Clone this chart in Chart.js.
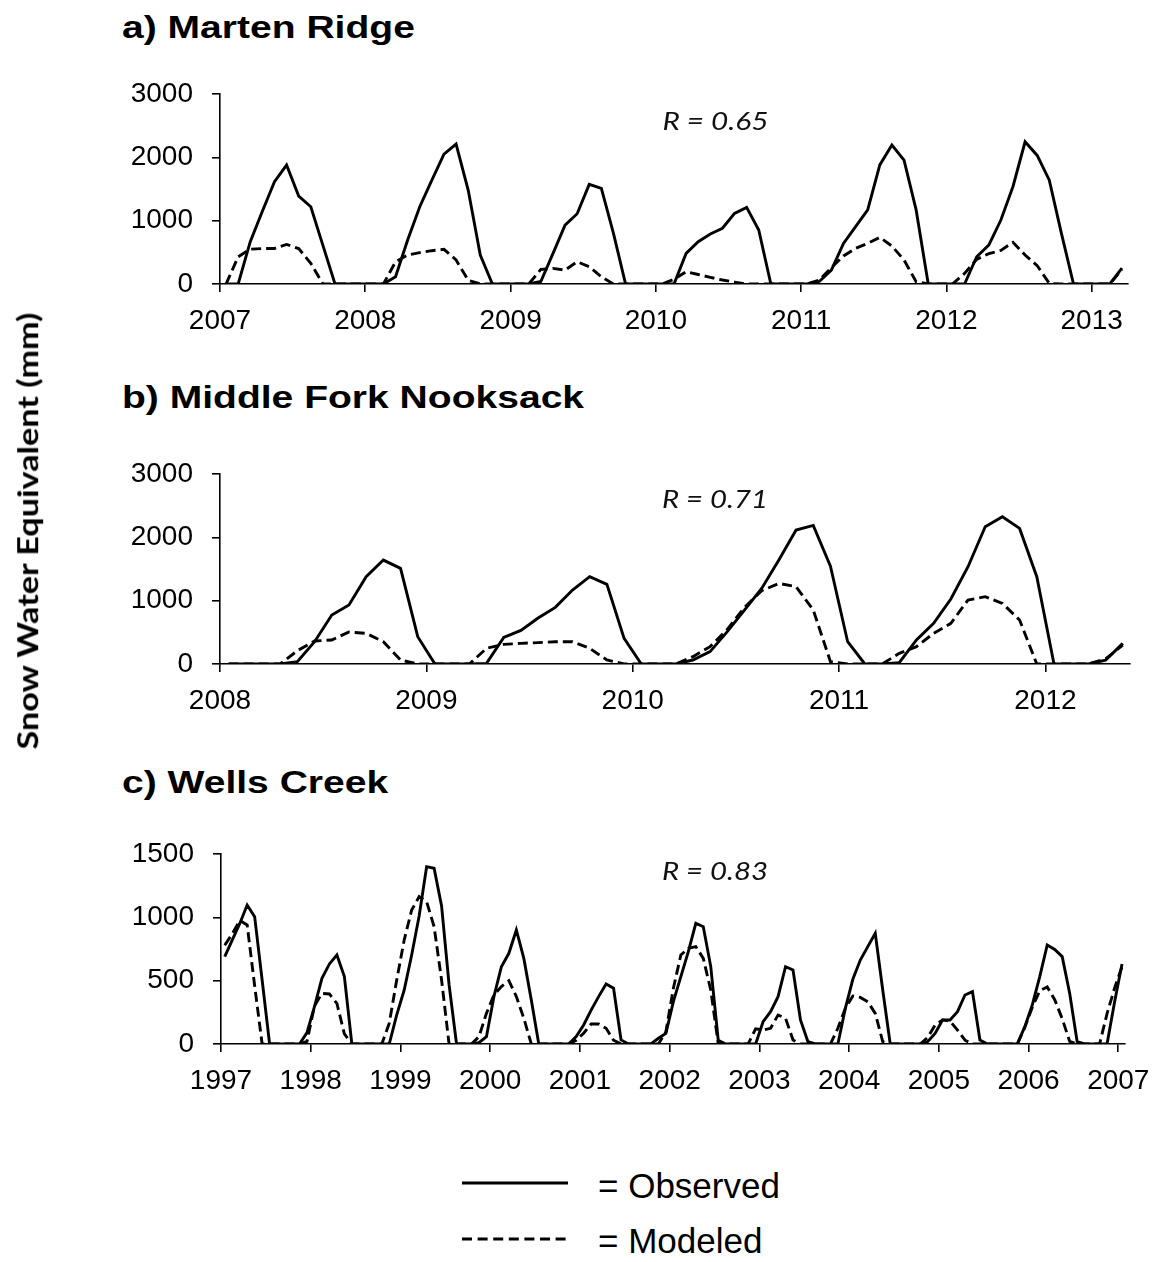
<!DOCTYPE html>
<html>
<head>
<meta charset="utf-8">
<script src="https://cdn.jsdelivr.net/npm/chart.js@4.4.1/dist/chart.umd.min.js"></script>
<style>
  html, body { margin: 0; padding: 0; background: #fff; }
  #page { position: relative; width: 1162px; height: 1262px; overflow: hidden; background: #fff; }
  canvas { position: absolute; left: 0; }
  .title {
    position: absolute; left: 122px; margin: 0;
    font: bold 32px 'Liberation Sans', Arial, sans-serif; line-height: 32px;
    white-space: nowrap; transform-origin: left center; transform: scaleX(1.22); color: #000;
  }
  .rval {
    position: absolute; font: italic 25px Lato, 'Open Sans', sans-serif; line-height: 25px;
    white-space: nowrap; color: #111;
  }
  #ylabel {
    position: absolute; font: bold 28px Lato, 'Open Sans', sans-serif; line-height: 28px;
    white-space: nowrap; color: #000;
  }
  .legtext {
    position: absolute; left: 598px; font: 35px 'Liberation Sans', Arial, sans-serif;
    line-height: 35px; white-space: nowrap; color: #000;
  }
  svg.legline { position: absolute; left: 462px; width: 108px; height: 10px; }
</style>
</head>
<body>
<div id="page">
  <div class="title" style="top:11px">a) Marten Ridge</div>
  <div class="title" style="top:381px">b) Middle Fork Nooksack</div>
  <div class="title" style="top:766px">c) Wells Creek</div>

  <canvas id="chartA" width="1162" height="300" style="top:54px"></canvas>
  <canvas id="chartB" width="1162" height="300" style="top:434px"></canvas>
  <canvas id="chartC" width="1162" height="300" style="top:814px"></canvas>

  <div class="rval" data-cx="715" data-cy="120" data-w="106">R = 0.65</div>
  <div class="rval" data-cx="715" data-cy="498" data-w="106">R = 0.71</div>
  <div class="rval" data-cx="715" data-cy="870" data-w="106">R = 0.83</div>

  <div id="ylabel">Snow Water Equivalent (mm)</div>

  <svg class="legline" style="top:1178px"><line x1="0" y1="5" x2="106" y2="5" stroke="#000" stroke-width="3"/></svg>
  <div class="legtext" style="top:1168px">= Observed</div>
  <svg class="legline" style="top:1234px"><line x1="0" y1="5" x2="106" y2="5" stroke="#000" stroke-width="3" stroke-dasharray="10 5.6"/></svg>
  <div class="legtext" style="top:1223px">= Modeled</div>
</div>

<script>
// ---- Monthly snow water equivalent (mm), one value per month, mid-month ----

// a) Marten Ridge, Jan 2007 - Mar 2013
const observedA = [
  0, 0, 668, 1150, 1615, 1878, 1389, 1220, 610, 0, 0, 0,        // 2007
  0, 0, 115, 695, 1220, 1640, 2050, 2210, 1483, 458, 0, 0,      // 2008
  0, 0, 40, 480, 930, 1110, 1573, 1510, 800, 0, 0, 0,           // 2009
  0, 0, 484, 668, 790, 880, 1115, 1210, 852, 0, 0, 0,           // 2010
  0, 40, 220, 640, 905, 1170, 1880, 2195, 1957, 1170, 0, 0,     // 2011
  0, 0, 430, 615, 1010, 1540, 2245, 2030, 1640, 800, 0, 0,      // 2012
  0, 0, 250                                                     // 2013
];
const modeledA = [
  0, 430, 550, 560, 560, 625, 560, 326, 0, 0, 0, 0,             // 2007
  0, 0, 350, 458, 495, 526, 547, 380, 60, 0, 0, 0,              // 2008
  0, 0, 230, 247, 220, 352, 273, 115, 0, 0, 0, 0,               // 2009
  0, 74, 195, 150, 105, 63, 30, 0, 0, 0, 0, 0,                  // 2010
  0, 63, 258, 442, 563, 642, 736, 600, 379, 37, 0, 0,           // 2011
  0, 168, 389, 479, 531, 658, 458, 289, 10, 0, 0, 0,            // 2012
  0, 0, 230                                                     // 2013
];

// b) Middle Fork Nooksack, Jan 2008 - May 2012
const observedB = [
  0, 0, 0, 0, 37, 352, 773, 931, 1378, 1641, 1510, 431,         // 2008
  0, 0, 0, 10, 421, 531, 726, 894, 1168, 1378, 1257, 405,       // 2009
  0, 0, 0, 63, 195, 510, 852, 1194, 1641, 2115, 2188, 1546,     // 2010
  352, 0, 0, 20, 379, 642, 1026, 1536, 2167, 2325, 2141, 1378,  // 2011
  0, 0, 0, 60, 326                                              // 2012
];
const modeledB = [
  0, 0, 0, 0, 210, 363, 379, 505, 484, 352, 63, 0,              // 2008
  0, 0, 0, 247, 310, 326, 337, 352, 352, 247, 63, 0,            // 2009
  0, 0, 0, 116, 274, 547, 894, 1157, 1273, 1220, 852, 37,       // 2010
  0, 0, 0, 168, 274, 484, 642, 1010, 1063, 957, 694, 0,         // 2011
  0, 0, 0, 80, 300                                              // 2012
];

// c) Wells Creek, Jan 1997 - Jan 2007
const observedC = [
  690, 820, 950, 1097, 1005, 505, 0, 0, 0, 0, 0, 90,            // 1997
  295, 518, 632, 703, 532, 0, 0, 0, 0, 0, 0, 230,               // 1998
  426, 703, 1010, 1400, 1387, 1090, 470, 0, 0, 0, 10, 58,       // 1999
  374, 610, 716, 900, 676, 347, 0, 0, 0, 0, 0, 58,              // 2000
  150, 268, 374, 474, 440, 32, 0, 0, 0, 0, 45, 84,              // 2001
  334, 532, 729, 953, 926, 611, 30, 0, 0, 0, 0, 0,              // 2002
  176, 255, 374, 610, 584, 190, 18, 0, 0, 0, 0, 282,            // 2003
  511, 663, 769, 874, 426, 0, 0, 0, 0, 0, 18, 84,               // 2004
  190, 190, 255, 387, 413, 32, 0, 0, 0, 0, 0, 137,              // 2005
  308, 532, 782, 747, 690, 400, 18, 0, 0, 0, 0, 330,            // 2006
  632                                                           // 2007
];
const modeledC = [
  780, 870, 975, 940, 460, 0, 0, 0, 0, 0, 0, 20,                // 1997
  300, 400, 395, 320, 80, 0, 0, 0, 0, 0, 163, 505,              // 1998
  821, 1058, 1163, 1124, 926, 505, 0, 0, 0, 0, 58, 242,         // 1999
  387, 453, 500, 374, 203, 0, 0, 0, 0, 0, 0, 30,                // 2000
  85, 158, 158, 124, 30, 0, 0, 0, 0, 0, 0, 97,                  // 2001
  440, 703, 755, 769, 676, 426, 0, 0, 0, 0, 0, 120,             // 2002
  110, 124, 229, 203, 32, 0, 0, 0, 0, 0, 124, 282,              // 2003
  379, 368, 334, 242, 18, 0, 0, 0, 0, 0, 50, 150,               // 2004
  190, 180, 110, 30, 0, 0, 0, 0, 0, 0, 0, 130,                  // 2005
  290, 420, 450, 350, 200, 20, 0, 0, 0, 0, 240, 440,            // 2006
  610                                                           // 2007
];

// Axis tick labels
const yearTicksA = [2007, 2008, 2009, 2010, 2011, 2012, 2013];
const yearTicksB = [2008, 2009, 2010, 2011, 2012];
const yearTicksC = [1997, 1998, 1999, 2000, 2001, 2002, 2003, 2004, 2005, 2006, 2007];
const sweTicksAB = [0, 1000, 2000, 3000];
const sweTicksC = [0, 500, 1000, 1500];

// Mid-month positions as decimal years
function monthStamps(startYear, count) {
  const out = [];
  for (let i = 0; i < count; i++) out.push(startYear + (i + 0.5) / 12);
  return out;
}

const FONT = "'Liberation Sans', Arial, sans-serif";
const PAGE_W = 1162;

function axisStyle() {
  return {
    grid: { drawOnChartArea: false, drawTicks: true, tickLength: 8, color: '#000', lineWidth: 1.6 },
    border: { display: true, color: '#000', width: 1.6 }
  };
}

function drawPanel(id, opts) {
  const dates = monthStamps(opts.startYear, opts.observed.length);
  const toPoints = vals => vals.map((v, i) => ({ x: dates[i], y: v }));
  const line = { borderColor: '#000', borderWidth: 2.9, pointRadius: 0, tension: 0, fill: false };

  return new Chart(document.getElementById(id), {
    type: 'line',
    data: {
      datasets: [
        Object.assign({ label: 'Observed', data: toPoints(opts.observed) }, line),
        Object.assign({ label: 'Modeled', data: toPoints(opts.modeled), borderDash: [10, 5] }, line)
      ]
    },
    options: {
      responsive: false,
      animation: false,
      events: [],
      devicePixelRatio: 1,
      layout: { padding: { top: 40, left: 0, bottom: 0, right: PAGE_W - opts.right } },
      plugins: { legend: { display: false }, tooltip: { enabled: false }, title: { display: false } },
      scales: {
        x: Object.assign({
          type: 'linear',
          min: opts.xMin,
          max: opts.xMax,
          afterBuildTicks: s => { s.ticks = opts.xTicks.map(v => ({ value: v })); },
          afterFit: s => { s.height = 70; },
          ticks: {
            autoSkip: false, maxRotation: 0, minRotation: 0, padding: 12, color: '#000',
            font: { family: FONT, size: 28 }, callback: v => String(v)
          }
        }, axisStyle()),
        y: Object.assign({
          type: 'linear',
          min: 0,
          max: opts.yMax,
          afterBuildTicks: s => { s.ticks = opts.yTicks.map(v => ({ value: v })); },
          afterFit: s => { s.width = opts.left; },
          ticks: {
            padding: 19, color: '#000', font: { family: FONT, size: 28 }, callback: v => String(v)
          }
        }, axisStyle())
      }
    }
  });
}

drawPanel('chartA', {
  startYear: 2007, observed: observedA, modeled: modeledA,
  xMin: 2007, xMax: 2013.25, xTicks: yearTicksA, yMax: 3000, yTicks: sweTicksAB,
  left: 220, right: 1128
});
drawPanel('chartB', {
  startYear: 2008, observed: observedB, modeled: modeledB,
  xMin: 2008, xMax: 2012.41, xTicks: yearTicksB, yMax: 3000, yTicks: sweTicksAB,
  left: 220, right: 1130
});
drawPanel('chartC', {
  startYear: 1997, observed: observedC, modeled: modeledC,
  xMin: 1997, xMax: 2007.075, xTicks: yearTicksC, yMax: 1500, yTicks: sweTicksC,
  left: 221, right: 1125
});

// Place the correlation notes and the shared vertical axis title
function placeCentered(el, cx, cy, targetW, rotate) {
  const r = el.getBoundingClientRect();
  const s = targetW / r.width;
  el.style.left = (cx - r.width / 2) + 'px';
  el.style.top = (cy - r.height / 2) + 'px';
  el.style.transformOrigin = '50% 50%';
  el.style.transform = (rotate ? 'rotate(-90deg) ' : '') + 'scaleX(' + s + ')';
}
document.querySelectorAll('.rval').forEach(el => {
  placeCentered(el, +el.dataset.cx, +el.dataset.cy, +el.dataset.w, false);
});
placeCentered(document.getElementById('ylabel'), 27, 531, 437, true);
</script>
</body>
</html>
